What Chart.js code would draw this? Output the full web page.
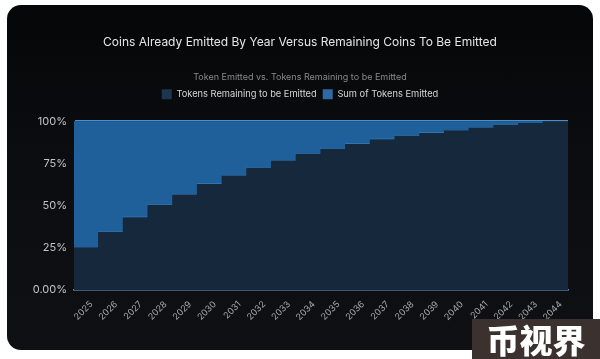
<!DOCTYPE html>
<html>
<head>
<meta charset="utf-8">
<script src="https://cdn.jsdelivr.net/npm/chart.js@4.4.1/dist/chart.umd.min.js"></script>
<style>
  html, body { margin:0; padding:0; background:#ffffff; width:600px; height:359px; overflow:hidden; }
  #card { position:absolute; left:7px; top:5px; width:586px; height:345px; border-radius:14px;
          background:linear-gradient(180deg,#050607 0%,#0b0d10 45%,#0e1013 100%); }
  #c { position:absolute; left:0; top:0; }
  #wm { position:absolute; left:472px; top:319px; width:128px; height:40px; background:#3b3230;
        color:#ffffff; font-family:"Noto Sans CJK SC"; font-weight:900; font-size:33px; line-height:40px;
        text-align:center; letter-spacing:0px; }
</style>
</head>
<body>
<div id="card"></div>
<canvas id="c" width="600" height="359"></canvas>
<div id="wm">币视界</div>
<script>
const titleText = 'Coins Already Emitted By Year Versus Remaining Coins To Be Emitted';
const subtitleText = 'Token Emitted vs. Tokens Remaining to be Emitted';
const years = ['2025','2026','2027','2028','2029','2030','2031','2032','2033','2034',
               '2035','2036','2037','2038','2039','2040','2041','2042','2043','2044'];
// lower (dark) band, percent
const remainingSeries = [25, 34, 42.8, 50, 56.2, 62.5, 67.5, 72, 76.3, 80.4,
                         83.3, 86.2, 89, 91, 92.7, 94.3, 95.9, 97.5, 98.6, 100];
// upper (light) band, percent
const emittedSeries = [75, 66, 57.2, 50, 43.8, 37.5, 32.5, 28, 23.7, 19.6,
                       16.7, 13.8, 11, 9, 7.3, 5.7, 4.1, 2.5, 1.4, 0];
const yTickValues = [0, 25, 50, 75, 100];
const yTickLabels = ['0.00%', '25%', '50%', '75%', '100%'];
const legendSwatches = ['#1c3650', '#2c6aa3'];

const lightFill = '#20609a';
const edgeColor = '#4189cc';

// border colour that is the edge colour only along each bar's bottom edge
function lightBorder(ctx) {
  const chart = ctx.chart;
  const yScale = chart.scales && chart.scales.y;
  if (!chart.chartArea || !yScale || ctx.dataIndex === undefined) return edgeColor;
  const meta = chart.getDatasetMeta(ctx.datasetIndex);
  const el = meta.data[ctx.dataIndex];
  let base = el && el.base !== undefined && !isNaN(el.base) ? el.base
           : yScale.getPixelForValue(remainingSeries[ctx.dataIndex]);
  const g = chart.ctx.createLinearGradient(0, base - 4, 0, base + 1);
  g.addColorStop(0, lightFill);
  g.addColorStop(0.32, lightFill);
  g.addColorStop(0.36, edgeColor);
  g.addColorStop(1, edgeColor);
  return g;
}

const legendSpacer = {
  id: 'legendSpacer',
  beforeInit(chart) {
    const origFit = chart.legend.fit;
    chart.legend.fit = function () { origFit.bind(chart.legend)(); this.height += 12; };
  }
};

new Chart(document.getElementById('c'), {
  type: 'bar',
  data: {
    labels: years,
    datasets: [
      { label: 'Tokens Remaining to be Emitted', data: remainingSeries,
        backgroundColor: '#16283b', borderWidth: 0, inflateAmount: 0.6,
        barPercentage: 1, categoryPercentage: 1 },
      { label: 'Sum of Tokens Emitted', data: emittedSeries,
        backgroundColor: lightFill, borderColor: lightBorder,
        borderWidth: { top: 0, bottom: 1.5, left: 0.01, right: 0.01 }, borderSkipped: false,
        inflateAmount: 0.6, barPercentage: 1, categoryPercentage: 1 }
    ]
  },
  options: {
    responsive: false,
    animation: false,
    devicePixelRatio: 1,
    layout: { padding: { left: 32, right: 32, top: 0, bottom: 0 } },
    plugins: {
      title: { display: true, text: titleText, color: '#e6e6e6',
               font: { family: 'Inter', size: 12, weight: 'normal', lineHeight: 1.2 },
               padding: { top: 35, bottom: 22 } },
      subtitle: { display: true, text: subtitleText, color: '#8a8a8a',
                  font: { family: 'Inter', size: 9, weight: 'normal', lineHeight: 1.2 },
                  padding: { top: 0, bottom: 1 } },
      legend: { display: true, position: 'top',
                labels: { color: '#d6d6d6', font: { family: 'Inter', size: 9.3 },
                          boxWidth: 10, boxHeight: 10, padding: 6,
                          generateLabels(chart) {
                            const items = Chart.defaults.plugins.legend.labels.generateLabels(chart);
                            items.forEach((it, i) => { it.fillStyle = legendSwatches[i]; it.strokeStyle = legendSwatches[i]; it.lineWidth = 0; });
                            return items;
                          } } },
      tooltip: { enabled: false }
    },
    scales: {
      x: {
        stacked: true, offset: true,
        grid: { display: false, drawTicks: false },
        border: { display: true, color: '#5b8fc7', width: 1.5 },
        ticks: { color: '#a8a8a8', font: { family: 'Inter', size: 9 }, maxRotation: 45, minRotation: 45,
                 autoSkip: false, padding: 9, labelOffset: 5 },
        afterFit(scale) { scale.height = 69; }
      },
      y: {
        stacked: true, min: 0, max: 100, z: 1,
        afterBuildTicks(scale) { scale.ticks = yTickValues.map(v => ({ value: v })); },
        grid: { drawTicks: false,
                color: ctx => ctx.tick && ctx.tick.value === 100 ? '#4a8fd0' : 'rgba(255,255,255,0.09)',
                lineWidth: ctx => ctx.tick && ctx.tick.value === 100 ? 1.5 : 1 },
        border: { display: true, color: 'rgba(90,140,200,0.35)' },
        ticks: { color: '#c4c4c4', font: { family: 'Inter', size: 11 }, padding: 7,
                 callback: (v) => yTickLabels[yTickValues.indexOf(v)] },
        afterFit(scale) { scale.width = 42; }
      }
    }
  },
  plugins: [legendSpacer]
});
</script>
</body>
</html>
